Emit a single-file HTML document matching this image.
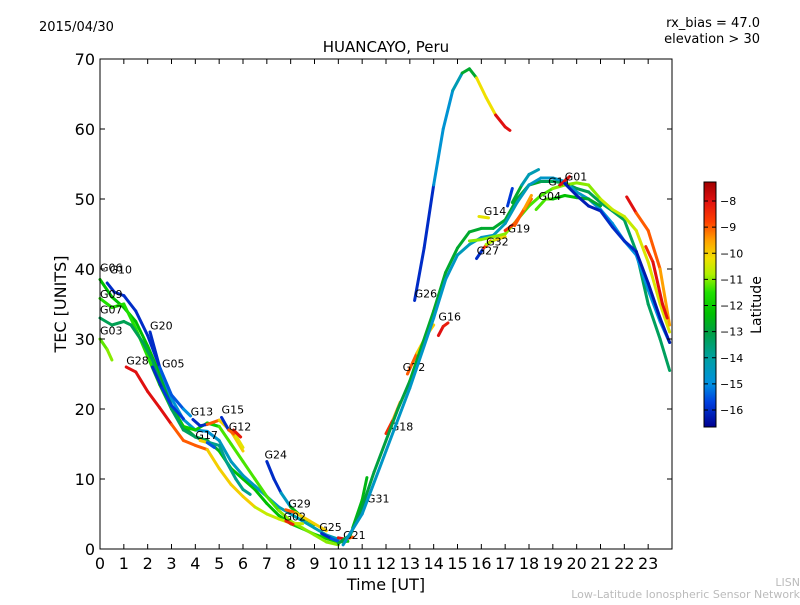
<!DOCTYPE html>
<html><head><meta charset="utf-8"><style>
body{margin:0;background:#fff;}
svg text{font-family:"DejaVu Sans","Liberation Sans",sans-serif;}
</style></head><body>
<svg id="chart" width="800" height="600" xmlns="http://www.w3.org/2000/svg">
<rect width="800" height="600" fill="#fff"/>
<text x="39" y="31" font-size="13">2015/04/30</text>
<text x="760" y="27" font-size="13" text-anchor="end">rx_bias = 47.0</text>
<text x="760" y="43" font-size="13" text-anchor="end">elevation &gt; 30</text>
<text x="386" y="52" font-size="15" text-anchor="middle">HUANCAYO, Peru</text>
<g id="marks"></g>
<g id="axes"></g>
<text x="386" y="590" font-size="16" text-anchor="middle">Time [UT]</text>
<text transform="translate(66,304) rotate(-90)" font-size="16" text-anchor="middle">TEC [UNITS]</text>
<text transform="translate(761,305) rotate(-90)" font-size="14" text-anchor="middle">Latitude</text>
<text x="800" y="586" font-size="11" fill="#bbb" text-anchor="end">LISN</text>
<text x="800" y="598" font-size="11" fill="#bbb" text-anchor="end">Low-Latitude Ionospheric Sensor Network</text>
</svg>
<script>
const xTicks=[0,1,2,3,4,5,6,7,8,9,10,11,12,13,14,15,16,17,18,19,20,21,22,23];
const yTicks=[0,10,20,30,40,50,60,70];
const cbTicks=[-8,-9,-10,-11,-12,-13,-14,-15,-16];
const latMin=-16.65, latMax=-7.27;
const trackNames=["G06","G10","G09","G07","G03","G28","G20","G05","G13","G15","G12","G17","G24","G29","G02","G25","G21","G31","G18","G22","G16","G26","E1","E2","E3","G14","G27","G32","G19","G04","G11","G01","R1","R2","B1","U1","U2"];
const trackLabels=[[0,39.5],[0.4,39.2],[0,35.7],[0,33.5],[0,30.5],[1.1,26.2],[2.1,31.2],[2.6,25.8],[3.8,18.9],[5.1,19.2],[5.4,16.8],[4,15.6],[6.9,12.8],[7.9,5.8],[7.7,3.9],[9.2,2.4],[10.2,1.3],[11.2,6.5],[12.2,16.8],[12.7,25.3],[14.2,32.5],[13.2,35.8],[null,null],[null,null],[null,null],[16.1,47.6],[15.8,41.9],[16.2,43.2],[17.1,45.1],[18.4,49.7],[18.8,51.8],[19.5,52.5],[null,null],[null,null],[null,null],[null,null],[null,null]];
const trackPoints=[
[[0,38.5],[0.5,36],[1,34.5],[1.5,32.5],[2,29],[2.5,25],[3,20.5],[3.5,17.5],[4,16],[4.5,15.5],[5,14],[5.5,11.5],[6,10],[6.5,8.5],[7,6.5],[7.5,4.8],[8,3.6],[8.5,2.9],[9,2.1],[9.5,1.5],[10,1],[10.4,1.1]],
[[0.3,38],[0.6,36.7],[1,36.2],[1.5,34],[2,30.5],[2.5,26],[3,21.5],[3.5,18.5],[4,17],[4.5,16.8],[5,15.5],[5.5,12.5],[6,10.5],[6.5,9],[7,7.5],[7.5,6],[8,5],[8.5,4],[9,3],[9.5,2],[10,1.4]],
[[0,35.8],[0.5,34.5],[1,35],[1.5,31.5],[2,27.5],[2.5,23.5],[3,20],[3.5,17.5],[4,17],[4.5,18],[5,17.5],[5.5,15],[6,12.5],[6.5,10],[7,7.5],[7.5,5.5],[8,4],[8.5,3],[9,2],[9.5,1],[10,0.6]],
[[0,33],[0.5,32],[1,32.5],[1.3,32],[1.8,29.5],[2.2,27],[2.5,24],[3,20],[3.5,17],[4,16],[4.5,15.3],[5,14.8],[5.3,12.5],[5.7,10],[6,8.5],[6.3,7.8]],
[[0,30],[0.3,28.5],[0.5,27]],
[[1.1,26],[1.5,25.3],[2,22.5],[2.5,20.2],[3,17.8],[3.5,15.5],[4,14.8],[4.5,14.2],[5,11.5],[5.5,9.2],[6,7.5],[6.5,6],[7,5],[7.5,4.3],[8,3.7],[8.5,3.6]],
[[2.1,31],[2.5,26],[3,22],[3.5,20],[3.8,19]],
[[2.2,26],[2.6,23],[3,20.5],[3.5,18.6]],
[[3.9,18.5],[4.2,17.6],[4.5,17.8],[5,18.4],[5.5,16.8],[6,14]],
[[5.1,18.8],[5.4,17],[5.7,16.2],[6,14.5]],
[[5.6,17],[5.9,16]],
[[4.2,15.5],[4.5,15.2],[4.8,14.5]],
[[7,12.5],[7.3,10],[7.6,8],[8,6],[8.5,4.5],[9,3.5]],
[[7.8,5.6],[8.2,5.2],[8.8,4],[9.5,2.6]],
[[7.8,4],[8.1,3.5]],
[[9.3,2.2],[9.7,1.5],[10,1.1]],
[[10,1.6],[10.3,1.4],[10.6,1.7]],
[[10.6,3],[11,7],[11.2,10.2]],
[[12,16.5],[12.3,18.5],[12.6,21]],
[[12.9,25],[13.3,28],[13.7,30.5],[14,32]],
[[14.2,30.5],[14.4,31.8],[14.6,32.3]],
[[13.2,35.5],[13.6,43],[14,52],[14.4,60],[14.8,65.5],[15.2,68],[15.5,68.6],[15.8,67.3],[16.2,64.5],[16.6,62],[17,60.3],[17.2,59.8]],
[[10,0.8],[10.5,2],[11,6],[11.5,11],[12,15.5],[12.5,20],[13,24],[13.5,29],[14,34],[14.5,39.5],[15,43],[15.5,45.3],[16,45.8],[16.5,45.8],[17,47],[17.5,50],[18,52],[18.5,52.5],[19,52.5],[19.5,52.3],[20,51.5],[20.5,51],[21,49.5],[21.5,48.3],[22,47],[22.5,42.5],[23,35],[23.5,30],[23.9,25.5]],
[[10.2,0.6],[11,5],[12,14],[13,23],[14,33],[14.5,38.5],[15,42],[15.5,43.5],[16,44.5],[16.5,44.8],[17,46.5],[17.5,49.5],[18,52],[18.5,53],[19,53],[19.5,52.5],[20,51],[20.5,50],[21,48.5],[21.5,46.5],[22,44],[22.5,42],[23,37],[23.5,32.5],[23.9,29.5]],
[[15.5,44],[16,44.2],[17,45],[17.5,47],[18,49],[18.5,50.5],[19,51.5],[19.5,52],[20,52.3],[20.5,52],[21,50],[21.5,48.5],[22,47.5],[22.5,45.5],[23,41],[23.5,35],[23.9,31]],
[[15.9,47.5],[16.3,47.3]],
[[15.8,41.5],[16.1,43],[16.4,44]],
[[16.2,43.5],[16.6,44.2],[17,44.6]],
[[17,45.5],[17.4,46.5],[17.8,48.5],[18.1,50]],
[[18.3,48.5],[18.7,50],[19,50],[19.5,50.5],[20,50.2],[20.5,50],[21,49]],
[[17.4,46.2],[17.8,48.6],[18.1,50.5]],
[[19.3,52],[19.7,53.2]],
[[22.1,50.3],[22.5,48],[23,45.5],[23.5,40],[23.9,32]],
[[22.9,43.2],[23.2,41],[23.6,35],[23.8,33]],
[[19.5,52.2],[20,50.5],[20.5,49],[21,48.3],[21.5,46],[22,44],[22.5,42.5],[23,38],[23.5,33],[23.9,29.5]],
[[17.3,49.5],[17.7,52],[18,53.5],[18.4,54.2]],
[[17.1,49],[17.3,51.5]]
];
const trackLats=[
[-12.3,-12.8,-12.3,-12],[-16,-14.8,-14.5,-14.3],[-11.5,-12,-11.3,-11],[-13.2,-13.3,-13.8],[-11.2,-11],
[-8,-9,-10,-10.6],[-16,-15.5,-15],[-16,-15.8],[-16,-9,-10],[-16,-9,-10.3],[-8,-8.2],[-10,-15.5],
[-16,-14.5,-12.5],[-9,-10],[-8,-8.3],[-16,-15.5],[-8,-9],[-12.5,-12.5],[-8.5,-9.5],[-9,-10],[-8,-8.2],
[-16,-14.8,-14.3,-12.8,-10.2,-8],[-13,-12.8,-12.8,-13.2,-13.3],[-14.6,-14.4,-14.6,-15],[-11,-11.3,-11,-10.6,-10.4],
[-10,-10.3],[-16,-8.5],[-10.8,-10],[-8.5,-9],[-11.3,-12.3,-12.8],[-9,-9.5],[-8,-8],[-8,-9,-9.5],[-8.5,-8],
[-16.2,-16,-16.3],[-12.8,-14.3],[-16,-15.8]
];
const cmapLat=[-16.65,-15.7,-15,-14,-13,-12.3,-11.5,-10.8,-10.2,-9.5,-8.8,-8,-7.27];
const cmapCol=[[0,0,144],[0,64,224],[0,144,224],[0,160,160],[0,160,64],[0,192,0],[32,224,0],[176,240,0],[240,224,0],[255,160,0],[255,64,0],[224,16,16],[160,0,0]];
const NS='http://www.w3.org/2000/svg';
const X0=100,X1=672,Y0=549,Y1=59;
const xs=h=>X0+h*(X1-X0)/24;
const ys=v=>Y0-v*(Y0-Y1)/70;
const cbY=l=>201+(-8-l)*26.125;
function latColor(l){
 if(l<=cmapLat[0])return `rgb(${cmapCol[0]})`;
 for(let i=0;i<cmapLat.length-1;i++){
  if(l<=cmapLat[i+1]){const f=(l-cmapLat[i])/(cmapLat[i+1]-cmapLat[i]);
   const c=cmapCol[i].map((v,k)=>Math.round(v+(cmapCol[i+1][k]-v)*f));return `rgb(${c})`;}
 }
 return `rgb(${cmapCol[cmapCol.length-1]})`;
}
const marks=document.getElementById('marks');
const axes=document.getElementById('axes');
function mk(tag,attrs,parent){const e=document.createElementNS(NS,tag);for(const k in attrs)e.setAttribute(k,attrs[k]);parent.appendChild(e);return e;}
trackPoints.forEach((pts,i)=>{
 const g=mk('g',{},marks);
 
 
 const lats=trackLats[i];
 for(let j=0;j<pts.length-1;j++){
  const f=(j+0.5)/(pts.length-1);
  const l=lats[Math.min(lats.length-1,Math.floor(f*lats.length))];
  const s=mk('line',{x1:xs(pts[j][0]),y1:ys(pts[j][1]),x2:xs(pts[j+1][0]),y2:ys(pts[j+1][1]),stroke:latColor(l),'stroke-width':3,'stroke-linecap':'round'},g);
  
  
 }
 const lp=trackLabels[i];
 if(lp[0]!==null){
  const t=mk('text',{x:xs(lp[0]),y:ys(lp[1])-1,'font-size':11},marks);
  t.textContent=trackNames[i];
  
  
 }
});
const fr=mk('rect',{x:X0,y:Y1,width:X1-X0,height:Y0-Y1,fill:'none',stroke:'#000','stroke-width':1},axes);


xTicks.forEach(h=>{
 const x=xs(h);
 mk('line',{x1:x,y1:Y0,x2:x,y2:Y0-5,stroke:'#000'},axes);
 mk('line',{x1:x,y1:Y1,x2:x,y2:Y1+5,stroke:'#000'},axes);
 const t=mk('text',{x:x,y:Y0+20,'font-size':16,'text-anchor':'middle'},axes);
 t.textContent=h;
 
 
});
yTicks.forEach(v=>{
 const y=ys(v);
 mk('line',{x1:X0,y1:y,x2:X0+5,y2:y,stroke:'#000'},axes);
 mk('line',{x1:X1,y1:y,x2:X1-5,y2:y,stroke:'#000'},axes);
 const t=mk('text',{x:X0-5,y:y+6,'font-size':16,'text-anchor':'end'},axes);
 t.textContent=v;
 
 
});
const cb=mk('g',{},axes);


for(let y=182;y<427;y++){const l=-8-(y+0.5-201)/26.125;mk('rect',{x:704,y:y,width:12,height:1.2,fill:latColor(l)},cb);}
mk('rect',{x:704,y:182,width:12,height:245,fill:'none',stroke:'#000'},cb);
cbTicks.forEach(l=>{
 const y=cbY(l);
 mk('line',{x1:704,y1:y,x2:708,y2:y,stroke:'#000'},cb);
 mk('line',{x1:716,y1:y,x2:712,y2:y,stroke:'#000'},cb);
 const t=mk('text',{x:720,y:y+4,'font-size':11},cb);
 t.textContent='\u2212'+Math.abs(l);
 
 
});
</script>
</body></html>
